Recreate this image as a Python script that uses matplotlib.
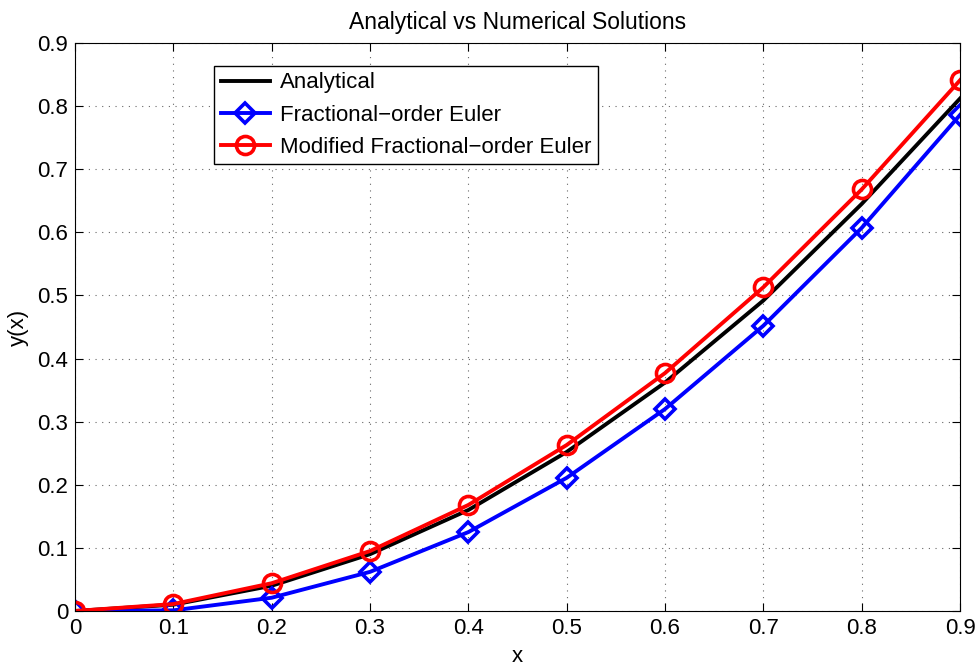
import numpy as np
import matplotlib.pyplot as plt

plt.rcParams['font.family'] = ['Liberation Sans', 'DejaVu Sans']

x = [0, 0.1, 0.2, 0.3, 0.4, 0.5, 0.6, 0.7, 0.8, 0.9]
y_exact = [0, 0.010, 0.040, 0.090, 0.160, 0.252, 0.362, 0.492, 0.645, 0.812]
y_euler = [0, 0.001, 0.021, 0.062, 0.125, 0.211, 0.320, 0.452, 0.607, 0.786]
y_mod = [0, 0.011, 0.044, 0.095, 0.168, 0.263, 0.377, 0.513, 0.668, 0.841]
ticks = ['0', '0.1', '0.2', '0.3', '0.4', '0.5', '0.6', '0.7', '0.8', '0.9']

fig = plt.figure(figsize=(9.77, 6.66), dpi=100)
ax = fig.add_axes([0.0768, 0.0826, 0.9058, 0.8528])

ax.plot(x, y_exact, color='black', lw=2.8, label='Analytical')
ax.plot(x, y_euler, color='blue', lw=2.8, marker='D', ms=10, mfc='none', mew=2.6,
        label='Fractional\u2212order Euler')
ax.plot(x, y_mod, color='red', lw=2.8, marker='o', ms=13, mfc='none', mew=2.6,
        label='Modified Fractional\u2212order Euler')

ax.set_xlim(0, 0.9)
ax.set_ylim(0, 0.9)
ax.set_xticks(np.arange(0, 0.91, 0.1))
ax.set_yticks(np.arange(0, 0.91, 0.1))
ax.set_xticklabels(ticks)
ax.set_yticklabels(ticks)
ax.tick_params(direction='in', top=True, right=True, labelsize=16, length=6, pad=5)
ax.grid(True, linestyle=(0, (1, 5)), color='black', lw=0.8, alpha=0.6)
for s in ax.spines.values():
    s.set_linewidth(0.8)

ax.set_title('Analytical vs Numerical Solutions', fontsize=16.5, pad=10)
ax.set_xlabel('x', fontsize=16, labelpad=5)
ax.set_ylabel('y(x)', fontsize=16, labelpad=6)

leg = ax.legend(loc='upper left', bbox_to_anchor=(0.157, 0.96), fontsize=16,
                fancybox=False, framealpha=1, edgecolor='black',
                handlelength=2.2, borderpad=0.3, labelspacing=0.5, handletextpad=0.45,
                borderaxespad=0)
leg.get_frame().set_linewidth(1.0)

fig.savefig('out.png', dpi=100)
